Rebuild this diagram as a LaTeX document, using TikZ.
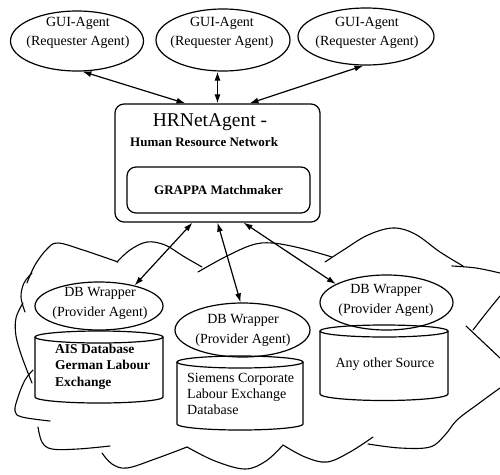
\documentclass[tikz,border=0pt]{standalone}
\usepackage{fontspec}
\setmainfont{Liberation Serif}
\usetikzlibrary{shapes.geometric,arrows.meta,calc}
\begin{document}
\begin{tikzpicture}[x=1pt,y=-1pt,
  ell/.style={draw, ellipse, line width=1.2pt, inner sep=0pt},
  lbl/.style={align=center, inner sep=0pt, font=\fontsize{14}{19.5}\selectfont},
  rbox/.style={draw, rounded corners=9pt, line width=1.2pt, inner sep=0pt},
  biarrow/.style={line width=1.2pt, {Latex[length=9pt,width=6pt]}-{Latex[length=9pt,width=6pt]}},
  cloudline/.style={line width=1.1pt, line cap=round, line join=round},
  cyl/.style={line width=1.2pt},
  dbtext/.style={align=left, inner sep=0pt, anchor=west}]
\useasboundingbox (0,0) rectangle (500,474);

% ---------- cloud outline (hand-drawn strokes) ----------
\draw[cloudline] plot[smooth,tension=0.6] coordinates {(32,273) (24,283) (21,297) (25,312)};
\draw[cloudline] plot[smooth,tension=0.6] coordinates {(27,283) (35,265) (47,249) (58,243) (83,250) (118,262)};
\draw[cloudline] plot[smooth,tension=0.6] coordinates {(117,262) (130,250) (147,242) (165,245) (183,256) (202,267)};
\draw[cloudline] plot[smooth,tension=0.6] coordinates {(198,272) (225,257) (252,245) (272,243) (300,248) (332,257)};
\draw[cloudline] plot[smooth,tension=0.6] coordinates {(325,262) (345,249) (368,235) (393,228) (415,234) (440,252) (463,266)};
\draw[cloudline] plot[smooth,tension=0.6] coordinates {(452,266) (476,268) (500,273)};
\draw[cloudline] plot[smooth,tension=0.6] coordinates {(500,296) (487,312) (473,330)};
\draw[cloudline] plot[smooth,tension=0.6] coordinates {(466,326) (483,342) (500,358)};
\draw[cloudline] plot[smooth,tension=0.6] coordinates {(500,388) (478,404) (457,420) (445,435) (430,447) (400,448) (368,444)};
\draw[cloudline] plot[smooth,tension=0.6] coordinates {(283,445) (305,457) (327,462) (350,452) (373,437)};
\draw[cloudline] plot[smooth,tension=0.6] coordinates {(187,447) (215,461) (245,469) (266,461) (283,445)};
\draw[cloudline] plot[smooth,tension=0.6] coordinates {(102,453) (112,464) (127,468) (155,459) (187,447)};
\draw[cloudline] plot[smooth,tension=0.6] coordinates {(38,427) (42,442) (52,449) (78,449) (110,446)};
\draw[cloudline] plot[smooth,tension=0.6] coordinates {(33,370) (25,380) (18,397) (15,411) (22,417) (50,421)};
\draw[cloudline] plot[smooth,tension=0.6] coordinates {(23,303) (16,318) (16,336) (22,357) (32,383)};

% ---------- requester agents ----------
\node[ell, minimum width=133pt, minimum height=60pt] (gl) at (77,41) {};
\node[ell, minimum width=134pt, minimum height=62pt] (gm) at (223,40) {};
\node[ell, minimum width=136pt, minimum height=57pt] (gr) at (366,36.5) {};
\node[lbl] (glt) at (78,33) {GUI-Agent\\(Requester Agent)};
\node[lbl] (gmt) at (222,33) {GUI-Agent\\(Requester Agent)};
\node[lbl] (grt) at (367,33) {GUI-Agent\\(Requester Agent)};

% ---------- HRNetAgent box ----------
\node[rbox, minimum width=205pt, minimum height=118pt] (hr) at (217.5,163) {};
\node[inner sep=0pt, font=\fontsize{19.5}{22}\selectfont] (hrt) at (210,122) {HRNetAgent -};
\node[inner sep=0pt, anchor=west, font=\bfseries\fontsize{13}{15}\selectfont] (hrs) at (130,142) {Human Resource Network};
\node[rbox, minimum width=183pt, minimum height=46pt, font=\bfseries\fontsize{13}{15}\selectfont] (gp) at (218.5,190) {GRAPPA Matchmaker};

% ---------- provider agents ----------
\node[ell, minimum width=128pt, minimum height=48pt] (dbl) at (99,306) {};
\node[ell, minimum width=135pt, minimum height=54pt] (dbm) at (242.5,330) {};
\node[ell, minimum width=133pt, minimum height=55pt] (dbr) at (386.5,302.5) {};
\node[lbl] (dblt) at (100,303.5) {DB Wrapper\\(Provider Agent)};
\node[lbl] (dbmt) at (243,330.5) {DB Wrapper\\(Provider Agent)};
\node[lbl] (dbrt) at (386,300.5) {DB Wrapper\\(Provider Agent)};

% ---------- cylinders ----------
\draw[cyl] (35,337) -- (35,397) arc[start angle=180, end angle=360, x radius=64pt, y radius=6pt] -- (163,337);
\draw[cyl] (99,337) ellipse[x radius=64pt, y radius=6pt];
\draw[cyl] (177,362) -- (177,424) arc[start angle=180, end angle=360, x radius=63pt, y radius=6pt] -- (303,362);
\draw[cyl] (240,362) ellipse[x radius=63pt, y radius=6pt];
\draw[cyl] (320,331) -- (320,394) arc[start angle=180, end angle=360, x radius=64pt, y radius=6.5pt] -- (448,331);
\draw[cyl] (384,331) ellipse[x radius=64pt, y radius=6pt];

\node[dbtext, font=\bfseries\fontsize{13.5}{16.5}\selectfont] (ais) at (55,366.5) {AIS Database\\German Labour\\Exchange};
\node[dbtext, font=\fontsize{14}{16}\selectfont] (sie) at (187,394) {Siemens Corporate\\Labour Exchange\\Database};
\node[lbl] (any) at (385,364) {Any other Source};

% ---------- connectors ----------
\draw[biarrow] (gl.-80) -- ($(hr.north)+(-32,0)$);
\draw[biarrow] (hr.north |- gm.south) -- (hr.north);
\draw[biarrow] (gr.-95) -- ($(hr.north)+(32,0)$);
\draw[biarrow] ($(hr.south)+(-25,0)$) -- (dbl.30);
\draw[biarrow] (hr.south) -- (dbm.94);
\draw[biarrow] ($(hr.south)+(26,0)$) -- (dbr.160);
\end{tikzpicture}
\end{document}
